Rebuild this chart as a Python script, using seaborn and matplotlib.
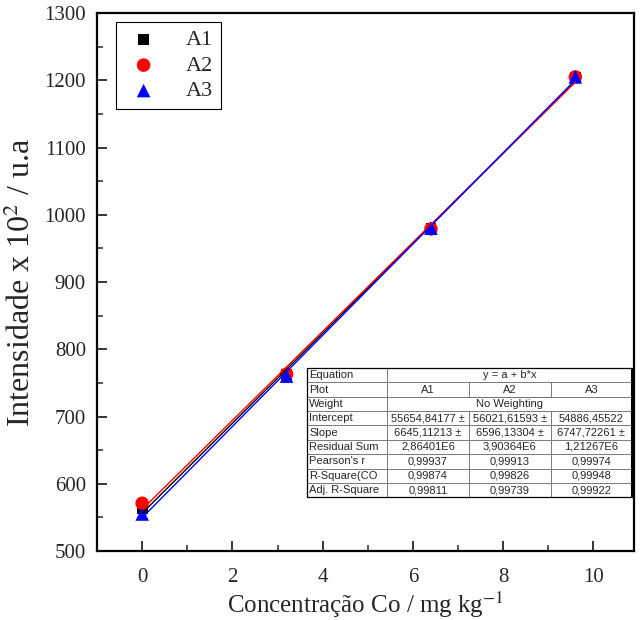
import numpy as np
import pandas as pd
import matplotlib
matplotlib.use("Agg")
import matplotlib.pyplot as plt
from matplotlib.ticker import MultipleLocator
import seaborn as sns

# Calibration data: cobalt concentration vs. emission intensity (x 10^2)
conc = [0.0, 3.2, 6.4, 9.6]
a1 = [563, 762, 980, 1204]
a2 = [571, 763, 979, 1205]
a3 = [555, 760, 980, 1205]

series_names = ["A1", "A2", "A3"]
series_values = [a1, a2, a3]
series_colors = ["black", "red", "blue"]
series_markers = ["s", "o", "^"]
series_sizes = [60, 95, 95]

# Linear fit summary table
row_labels = ["Equation", "Plot", "Weight", "Intercept", "Slope",
              "Residual Sum", "Pearson's r", "R-Square(CO", "Adj. R-Square"]
equation = "y = a + b*x"
weighting = "No Weighting"
intercepts = ["55654,84177 ±", "56021,61593 ±", "54886,45522"]
slopes = ["6645,11213 ±", "6596,13304 ±", "6747,72261 ±"]
residuals = ["2,86401E6", "3,90364E6", "1,21267E6"]
pearson = ["0,99937", "0,99913", "0,99974"]
r_square = ["0,99874", "0,99826", "0,99948"]
adj_r_square = ["0,99811", "0,99739", "0,99922"]

sns.set_style("white")
plt.rcParams["font.family"] = ["Liberation Serif", "DejaVu Serif"]
plt.rcParams["mathtext.fontset"] = "stix"

fig = plt.figure(figsize=(6.4, 6.2), dpi=100)
ax = fig.add_axes([0.1516, 0.1113, 0.8390, 0.8677])

for name, vals, col, mk, sz in zip(series_names, series_values, series_colors,
                                   series_markers, series_sizes):
    df = pd.DataFrame({"x": conc, "y": vals})
    sns.scatterplot(data=df, x="x", y="y", ax=ax, color=col, marker=mk, s=sz,
                    edgecolor="none", label=name, zorder=3)
for name, vals, col in zip(series_names, series_values, series_colors):
    df = pd.DataFrame({"x": conc, "y": vals})
    sns.regplot(data=df, x="x", y="y", ax=ax, scatter=False, ci=None,
                truncate=True, line_kws={"color": col, "lw": 1.0, "zorder": 4})

ax.set_xlim(-1, 10.9)
ax.set_ylim(500, 1300)
ax.xaxis.set_major_locator(MultipleLocator(2))
ax.xaxis.set_minor_locator(MultipleLocator(1))
ax.yaxis.set_major_locator(MultipleLocator(100))
ax.yaxis.set_minor_locator(MultipleLocator(50))
ax.tick_params(axis="both", which="major", direction="in", length=7, width=1.3,
               labelsize=15, bottom=True, left=True)
ax.tick_params(axis="x", which="major", pad=12)
ax.tick_params(axis="y", which="major", pad=8)
ax.tick_params(axis="both", which="minor", direction="in", length=4, width=1.1,
               bottom=True, left=True)
for sp in ax.spines.values():
    sp.set_visible(True)
    sp.set_color("black")
    sp.set_linewidth(1.6)

ax.set_xlabel("Concentração Co / mg kg$^{-1}$", fontsize=18, labelpad=2)
ax.set_ylabel("Intensidade x 10$^{2}$ / u.a", fontsize=23, labelpad=5)

leg = ax.legend(loc="upper left", bbox_to_anchor=(0.035, 0.983), borderaxespad=0,
                fontsize=16, frameon=True, fancybox=False, framealpha=1,
                edgecolor="black", handletextpad=1.0, borderpad=0.35,
                labelspacing=0.22, handlelength=1.8)
leg.get_frame().set_linewidth(0.8)

# Fit statistics table
cell_text = [
    ["Equation", "", equation, ""],
    ["Plot"] + series_names,
    ["Weight", "", weighting, ""],
    ["Intercept"] + intercepts,
    ["Slope"] + slopes,
    ["Residual Sum"] + residuals,
    ["Pearson's r"] + pearson,
    ["R-Square(CO"] + r_square,
    ["Adj. R-Square"] + adj_r_square,
]
widths = np.array([80, 82, 82, 81], dtype=float)
widths = widths / widths.sum()
tbl = ax.table(cellText=cell_text, colWidths=list(widths), cellLoc="center",
               bbox=[0.391, 0.100, 0.605, 0.240], zorder=6)
tbl.auto_set_font_size(False)
tbl.set_fontsize(8)
for (r, c), cell in tbl.get_celld().items():
    cell.set_edgecolor("#707070")
    cell.set_linewidth(0.6)
    cell.get_text().set_fontfamily("Liberation Sans")
    if c == 0:
        cell.get_text().set_ha("left")
        cell.PAD = 0.03
    if r in (0, 2):
        if c == 1:
            cell.visible_edges = "BTL"
        elif c == 2:
            cell.visible_edges = "BT"
        elif c == 3:
            cell.visible_edges = "BTR"

# outer frame of the table
ax.add_patch(plt.Rectangle((0.391, 0.100), 0.605, 0.240, transform=ax.transAxes,
                           fill=False, edgecolor="black", lw=0.9, zorder=7))
ax.plot([0.996, 0.996], [0.100, 0.340], transform=ax.transAxes, color="black",
        lw=2.2, zorder=7, solid_capstyle="butt")

fig.savefig("out.png", dpi=100)
